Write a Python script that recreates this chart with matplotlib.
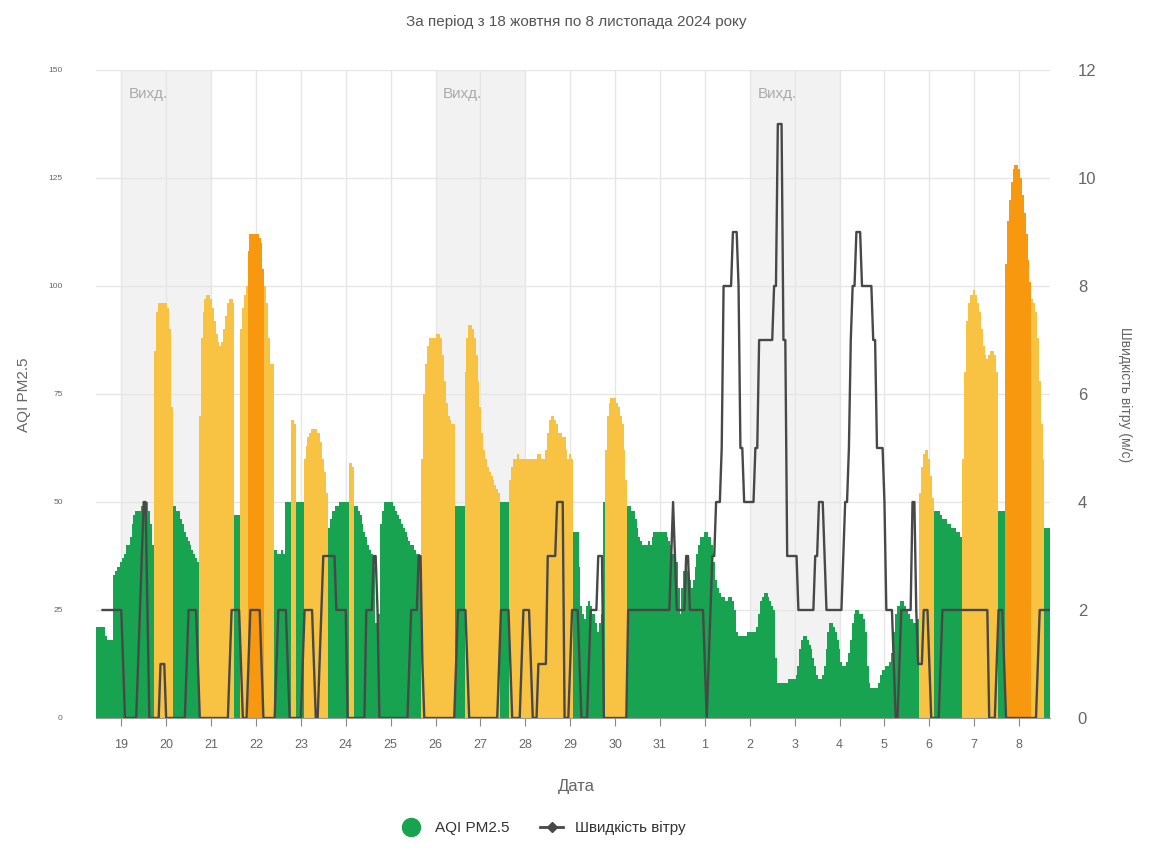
import numpy as np
import pandas as pd
import matplotlib
matplotlib.use('Agg')
import matplotlib.pyplot as plt
import matplotlib.dates as mdates
from matplotlib.lines import Line2D

plt.rcParams['font.family'] = ['Liberation Sans', 'DejaVu Sans']

# hourly AQI PM2.5, from 18 Oct 11:00 to 8 Nov 16:00
aqi_1018 = [21, 21, 21, 21, 21, 19, 18, 18, 18, 33, 34, 35, 35]
aqi_1019 = [36, 37, 38, 40, 40, 42, 45, 47, 48, 48, 48, 49, 49, 50, 50, 48, 45, 40, 85, 94, 96, 96, 96, 96]
aqi_1020 = [96, 95, 90, 72, 49, 49, 48, 48, 46, 45, 43, 42, 41, 40, 39, 38, 37, 36, 70, 88, 94, 97, 98, 98]
aqi_1021 = [97, 95, 92, 89, 87, 86, 87, 90, 93, 96, 97, 97, 96, 47, 47, 47, 90, 95, 98, 100, 108, 112, 112, 112]
aqi_1022 = [112, 112, 111, 110, 104, 100, 96, 88, 82, 82, 39, 39, 38, 38, 39, 38, 50, 50, 50, 69, 69, 68, 50, 50]
aqi_1023 = [50, 50, 60, 63, 65, 66, 67, 67, 67, 66, 66, 64, 60, 57, 52, 44, 46, 48, 48, 49, 49, 50, 50, 50]
aqi_1024 = [50, 50, 59, 59, 58, 49, 49, 48, 47, 45, 43, 42, 40, 39, 38, 35, 22, 22, 24, 45, 48, 50, 50, 50]
aqi_1025 = [50, 50, 49, 48, 47, 46, 45, 44, 43, 42, 41, 40, 40, 39, 38, 38, 37, 60, 75, 82, 86, 88, 88, 88]
aqi_1026 = [88, 89, 89, 88, 84, 78, 73, 70, 69, 68, 68, 49, 49, 49, 49, 49, 80, 88, 91, 91, 90, 88, 84, 78]
aqi_1027 = [72, 66, 62, 60, 58, 57, 56, 55, 54, 53, 52, 50, 50, 50, 50, 50, 55, 58, 60, 60, 61, 60, 60, 60]
aqi_1028 = [60, 60, 60, 60, 60, 60, 60, 61, 61, 60, 60, 62, 66, 69, 70, 70, 69, 68, 66, 66, 65, 65, 62, 60]
aqi_1029 = [61, 60, 43, 43, 43, 35, 26, 24, 23, 26, 27, 26, 24, 24, 22, 20, 22, 24, 50, 62, 70, 73, 74, 74]
aqi_1030 = [74, 73, 72, 70, 68, 62, 55, 49, 49, 48, 48, 46, 44, 42, 41, 40, 40, 40, 41, 40, 42, 43, 43, 43]
aqi_1031 = [43, 43, 43, 43, 42, 41, 40, 38, 36, 36, 30, 24, 30, 34, 35, 34, 32, 30, 32, 35, 38, 40, 42, 42]
aqi_1101 = [43, 43, 42, 42, 40, 36, 32, 30, 29, 28, 28, 27, 27, 28, 28, 27, 25, 20, 19, 19, 19, 19, 19, 20]
aqi_1102 = [20, 20, 20, 20, 21, 24, 27, 28, 29, 29, 28, 27, 26, 25, 14, 8, 8, 8, 8, 8, 8, 9, 9, 9]
aqi_1103 = [9, 10, 12, 16, 18, 19, 19, 18, 17, 16, 14, 12, 10, 9, 9, 10, 12, 16, 20, 22, 22, 21, 20, 18]
aqi_1104 = [16, 13, 12, 12, 13, 15, 18, 22, 24, 25, 25, 24, 24, 23, 20, 12, 8, 7, 7, 7, 7, 8, 10, 11]
aqi_1105 = [11, 12, 12, 13, 15, 20, 24, 26, 26, 27, 27, 26, 25, 24, 23, 23, 22, 22, 23, 52, 58, 61, 62, 62]
aqi_1106 = [60, 56, 51, 48, 48, 48, 47, 46, 46, 46, 45, 45, 44, 44, 44, 43, 43, 42, 60, 80, 92, 96, 98, 98]
aqi_1107 = [99, 98, 96, 94, 90, 86, 84, 83, 84, 85, 85, 84, 80, 48, 48, 48, 48, 105, 115, 120, 124, 127, 128, 128]
aqi_1108 = [127, 125, 121, 117, 112, 106, 101, 97, 96, 94, 88, 78, 68, 60, 44, 44, 44]

# hourly wind speed, m/s
wind_1018 = [None, None, None, 2, 2, 2, 2, 2, 2, 2, 2, 2, 2]
wind_1019 = [2, 1, 0, 0, 0, 0, 0, 0, 0, 1, 2, 3, 4, 4, 2, 0, 0, 0, 0, 0, 0, 1, 1, 1]
wind_1020 = [0, 0, 0, 0, 0, 0, 0, 0, 0, 0, 0, 1, 2, 2, 2, 2, 2, 1, 0, 0, 0, 0, 0, 0]
wind_1021 = [0, 0, 0, 0, 0, 0, 0, 0, 0, 0, 1, 2, 2, 2, 2, 2, 1, 0, 0, 0, 1, 2, 2, 2]
wind_1022 = [2, 2, 2, 1, 0, 0, 0, 0, 0, 0, 0, 1, 2, 2, 2, 2, 2, 1, 0, 0, 0, 0, 0, 0]
wind_1023 = [0, 1, 2, 2, 2, 2, 2, 1, 0, 0, 1, 2, 3, 3, 3, 3, 3, 3, 3, 2, 2, 2, 2, 2]
wind_1024 = [2, 0, 0, 0, 0, 0, 0, 0, 0, 0, 0, 2, 2, 2, 2, 3, 3, 2, 0, 0, 0, 0, 0, 0]
wind_1025 = [0, 0, 0, 0, 0, 0, 0, 0, 0, 0, 1, 2, 2, 2, 2, 3, 3, 1, 0, 0, 0, 0, 0, 0]
wind_1026 = [0, 0, 0, 0, 0, 0, 0, 0, 0, 0, 0, 1, 2, 2, 2, 2, 2, 1, 0, 0, 0, 0, 0, 0]
wind_1027 = [0, 0, 0, 0, 0, 0, 0, 0, 0, 0, 1, 2, 2, 2, 2, 2, 1, 0, 0, 0, 0, 0, 1, 2]
wind_1028 = [2, 2, 2, 1, 0, 0, 0, 1, 1, 1, 1, 1, 3, 3, 3, 3, 3, 4, 4, 4, 4, 0, 0, 0]
wind_1029 = [1, 2, 2, 2, 2, 1, 0, 0, 0, 0, 1, 2, 2, 2, 2, 3, 3, 3, 0, 0, 0, 0, 0, 0]
wind_1030 = [0, 0, 0, 0, 0, 0, 0, 2, 2, 2, 2, 2, 2, 2, 2, 2, 2, 2, 2, 2, 2, 2, 2, 2]
wind_1031 = [2, 2, 2, 2, 2, 2, 3, 4, 3, 2, 2, 2, 2, 2, 3, 3, 2, 2, 2, 2, 2, 2, 2, 2]
wind_1101 = [1, 0, 1, 2, 3, 3, 4, 4, 4, 5, 8, 8, 8, 8, 8, 9, 9, 9, 8, 5, 5, 4, 4, 4]
wind_1102 = [4, 4, 4, 5, 5, 7, 7, 7, 7, 7, 7, 7, 7, 8, 8, 11, 11, 11, 7, 7, 3, 3, 3, 3]
wind_1103 = [3, 3, 2, 2, 2, 2, 2, 2, 2, 2, 2, 3, 3, 4, 4, 4, 3, 2, 2, 2, 2, 2, 2, 2]
wind_1104 = [2, 2, 3, 4, 4, 5, 7, 8, 8, 9, 9, 9, 8, 8, 8, 8, 8, 8, 7, 7, 5, 5, 5, 5]
wind_1105 = [4, 2, 2, 2, 2, 1, 0, 0, 1, 2, 2, 2, 2, 2, 2, 4, 4, 2, 1, 1, 1, 2, 2, 2]
wind_1106 = [1, 0, 0, 0, 0, 0, 1, 2, 2, 2, 2, 2, 2, 2, 2, 2, 2, 2, 2, 2, 2, 2, 2, 2]
wind_1107 = [2, 2, 2, 2, 2, 2, 2, 2, 0, 0, 0, 0, 1, 2, 2, 2, 1, 0, 0, 0, 0, 0, 0, 0]
wind_1108 = [0, 0, 0, 0, 0, 0, 0, 0, 0, 0, 1, 2, 2, 2, 2, 2, 2]

weekends = ['2024-10-19', '2024-10-26', '2024-11-02']

aqi = np.array(aqi_1018 + aqi_1019 + aqi_1020 + aqi_1021 + aqi_1022 + aqi_1023 +
               aqi_1024 + aqi_1025 + aqi_1026 + aqi_1027 + aqi_1028 + aqi_1029 +
               aqi_1030 + aqi_1031 + aqi_1101 + aqi_1102 + aqi_1103 + aqi_1104 +
               aqi_1105 + aqi_1106 + aqi_1107 + aqi_1108, dtype=float)
wind = np.array(wind_1018 + wind_1019 + wind_1020 + wind_1021 + wind_1022 + wind_1023 +
                wind_1024 + wind_1025 + wind_1026 + wind_1027 + wind_1028 + wind_1029 +
                wind_1030 + wind_1031 + wind_1101 + wind_1102 + wind_1103 + wind_1104 +
                wind_1105 + wind_1106 + wind_1107 + wind_1108, dtype=float)

times = pd.date_range('2024-10-18 11:00', periods=len(aqi), freq='h')

GREEN = '#17a34f'
YELLOW = '#f8c343'
ORANGE = '#f8980f'
colors = [GREEN if v <= 50 else (YELLOW if v <= 100 else ORANGE) for v in aqi]

fig = plt.figure(figsize=(11.52, 8.52), dpi=100)
ax = fig.add_axes([96 / 1152, 1 - 718 / 852, 954 / 1152, 648 / 852])
ax2 = ax.twinx()

half = pd.Timedelta(minutes=30)
ax.set_xlim(times[0] - half, times[-1] + half)
ax.set_ylim(0, 150)
ax2.set_ylim(0, 12)

# weekend bands
for w in weekends:
    start = pd.Timestamp(w)
    ax.axvspan(start, start + pd.Timedelta(days=2), color='#f2f2f2', zorder=0, lw=0)
    ax.text(start + pd.Timedelta(hours=4), 146, 'Вихд.', color='#aaaaaa',
            fontsize=11, va='top', ha='left', zorder=1)

# hourly bars, no antialiasing so neighbouring hours join without seams
ax.bar(times, aqi, width=1 / 24, color=colors, linewidth=0,
       antialiased=False, zorder=2)
ax2.plot(times, wind, color='#484848', lw=1.7, zorder=3,
         solid_joinstyle='round')

ax.set_axisbelow(True)
ax.grid(True, color='#e6e6e6', lw=1)
ax.set_yticks(range(0, 151, 25))
ax2.set_yticks(range(0, 13, 2))

ax.xaxis.set_major_locator(mdates.DayLocator())
ax.xaxis.set_major_formatter(mdates.DateFormatter('%-d'))

for a in (ax, ax2):
    for s in a.spines.values():
        s.set_visible(False)
ax.spines['bottom'].set_visible(True)
ax.spines['bottom'].set_color('#999999')

ax.tick_params(axis='x', length=6, color='#888888', labelsize=9,
               labelcolor='#666666', pad=9)
ax.tick_params(axis='y', length=0, labelsize=6, labelcolor='#666666', pad=24)
ax2.tick_params(axis='y', length=0, labelsize=12, labelcolor='#666666', pad=20)

fig.text(576 / 1152, 1 - 22 / 852, 'За період з 18 жовтня по 8 листопада 2024 року',
         ha='center', va='center', fontsize=11, color='#555555')
fig.text(24 / 1152, 1 - 395 / 852, 'AQI PM2.5', rotation=90, ha='center',
         va='center', fontsize=11, color='#666666')
fig.text(1125 / 1152, 1 - 395 / 852, 'Швидкість вітру (м/с)', rotation=270,
         ha='center', va='center', fontsize=10, color='#666666')
fig.text(576 / 1152, 1 - 786 / 852, 'Дата', ha='center', va='center',
         fontsize=12, color='#666666')

handles = [Line2D([], [], marker='o', color='none', markerfacecolor=GREEN,
                  markeredgecolor=GREEN, markersize=13, linestyle='None'),
           Line2D([], [], color='#484848', marker='D', markersize=5, lw=2)]
fig.legend(handles, ['AQI PM2.5', 'Швидкість вітру'], loc='center',
           bbox_to_anchor=(543 / 1152, 1 - 828 / 852), ncol=2, frameon=False,
           fontsize=11, labelcolor='#333333', handlelength=1.5, columnspacing=2)

fig.savefig('out.png', dpi=100)
